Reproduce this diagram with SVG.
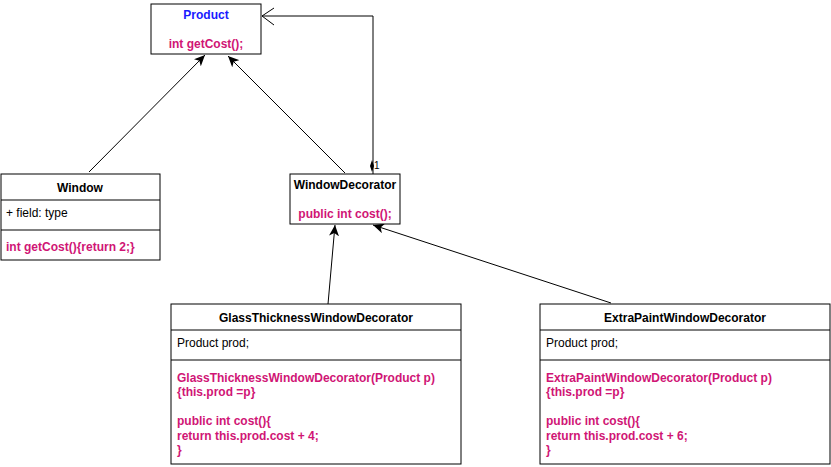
<svg xmlns="http://www.w3.org/2000/svg" width="831" height="467" viewBox="0 0 831 467">
  <style>
    .box { fill: #ffffff; stroke: #000000; stroke-width: 1; }
    .sep { stroke: #000000; stroke-width: 1; fill: none; }
    text { font-family: "Liberation Sans", Arial, sans-serif; font-size: 12px; }
    .hdr { font-weight: bold; fill: #000000; text-anchor: middle; }
    .fld { fill: #000000; }
    .mth { font-weight: bold; fill: #D01575; }
    .ttl { font-weight: bold; fill: #1a1aff; text-anchor: middle; }
    .edge { stroke: #000000; stroke-width: 1; fill: none; }
  </style>
  <defs>
    <marker id="classic" markerUnits="userSpaceOnUse" markerWidth="12" markerHeight="10" viewBox="0 0 12 10" refX="11" refY="5" orient="auto">
      <path d="M0,0 L11,5 L0,10 L3,5 Z" fill="#000000"/>
    </marker>
  </defs>

  <rect width="831" height="467" fill="#ffffff"/>

  <!-- connectors -->
  <g id="connectors">
    <line class="edge" x1="89" y1="172" x2="205" y2="55" marker-end="url(#classic)"/>
    <line class="edge" x1="345" y1="173" x2="228" y2="56" marker-end="url(#classic)"/>
    <line class="edge" x1="328" y1="304" x2="335" y2="225" marker-end="url(#classic)"/>
    <line class="edge" x1="611" y1="303" x2="373" y2="225" marker-end="url(#classic)"/>
    <!-- aggregation WindowDecorator -> Product -->
    <polyline class="edge" points="373,174 373,16 262,16"/>
    <polyline class="edge" points="274,8 262,16 274,25"/>
    <path d="M372,160 L374,166 L372,172 L370,166 Z" fill="#000000"/>
    <text x="374" y="169" style="font-size:10px" fill="#000000">1</text>
  </g>

  <!-- Product -->
  <g id="product">
    <rect class="box" x="151" y="4" width="110" height="50"/>
    <text class="ttl" x="206" y="19">Product</text>
    <text class="mth" x="206" y="48" text-anchor="middle">int getCost();</text>
  </g>

  <!-- Window -->
  <g id="window">
    <rect class="box" x="1" y="174" width="159" height="86"/>
    <line class="sep" x1="1" y1="200" x2="160" y2="200"/>
    <line class="sep" x1="1" y1="230" x2="160" y2="230"/>
    <text class="hdr" x="80" y="192">Window</text>
    <text class="fld" x="6" y="217">+ field: type</text>
    <text class="mth" x="6" y="251">int getCost(){return 2;}</text>
  </g>

  <!-- WindowDecorator -->
  <g id="window-decorator">
    <rect class="box" x="290" y="174" width="110" height="50"/>
    <text class="hdr" x="345" y="189">WindowDecorator</text>
    <text class="mth" x="345" y="218" text-anchor="middle">public int cost();</text>
  </g>

  <!-- GlassThicknessWindowDecorator -->
  <g id="glass-thickness-decorator">
    <rect class="box" x="171" y="304" width="290" height="160"/>
    <line class="sep" x1="171" y1="330" x2="461" y2="330"/>
    <line class="sep" x1="171" y1="360" x2="461" y2="360"/>
    <text class="hdr" x="316" y="322">GlassThicknessWindowDecorator</text>
    <text class="fld" x="177" y="347">Product prod;</text>
    <text class="mth">
      <tspan x="177" y="382">GlassThicknessWindowDecorator(Product p)</tspan>
      <tspan x="177" y="396.4">{this.prod =p}</tspan>
      <tspan x="177" y="425.2">public int cost(){</tspan>
      <tspan x="177" y="439.6">return this.prod.cost + 4;</tspan>
      <tspan x="177" y="454">}</tspan>
    </text>
  </g>

  <!-- ExtraPaintWindowDecorator -->
  <g id="extra-paint-decorator">
    <rect class="box" x="540" y="304" width="290" height="160"/>
    <line class="sep" x1="540" y1="330" x2="830" y2="330"/>
    <line class="sep" x1="540" y1="360" x2="830" y2="360"/>
    <text class="hdr" x="685" y="322">ExtraPaintWindowDecorator</text>
    <text class="fld" x="546" y="347">Product prod;</text>
    <text class="mth">
      <tspan x="546" y="382">ExtraPaintWindowDecorator(Product p)</tspan>
      <tspan x="546" y="396.4">{this.prod =p}</tspan>
      <tspan x="546" y="425.2">public int cost(){</tspan>
      <tspan x="546" y="439.6">return this.prod.cost + 6;</tspan>
      <tspan x="546" y="454">}</tspan>
    </text>
  </g>
</svg>
